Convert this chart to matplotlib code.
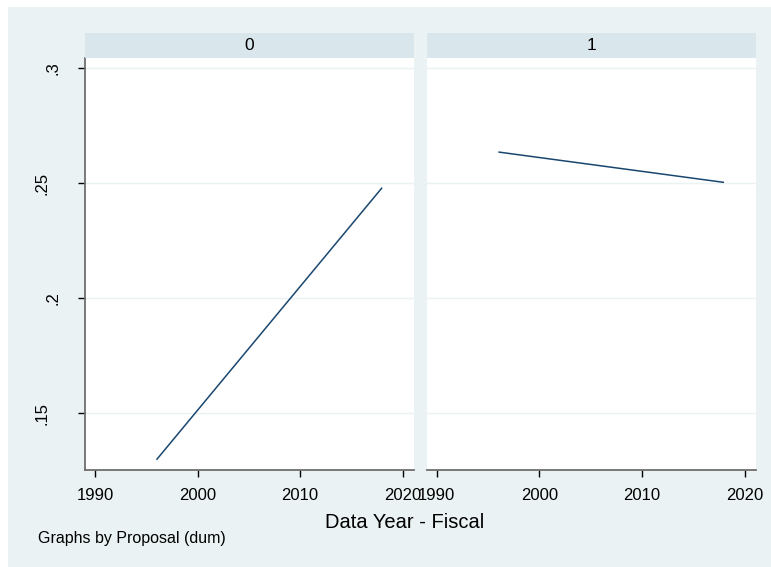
import matplotlib
matplotlib.use("Agg")
import matplotlib.pyplot as plt
from matplotlib.patches import Rectangle
from matplotlib.transforms import ScaledTranslation

plt.rcParams['font.family'] = ['Liberation Sans', 'DejaVu Sans']

# Fitted trend of the share by fiscal year, one panel per Proposal (dum) group
panels = ["0", "1"]
years = [1996, 2018]
values = {
    "0": [0.1298, 0.2481],
    "1": [0.2636, 0.2504],
}
x_ticks = [1990, 2000, 2010, 2020]
y_ticks = [0.15, 0.20, 0.25, 0.30]
y_labels = [".15", ".2", ".25", ".3"]

BG = "#EAF2F3"
STRIP = "#D9E6EB"
LINE = "#1A476F"
AXIS = "#6E6E6E"

W, H = 771, 567
fig = plt.figure(figsize=(W / 100, H / 100), dpi=100, facecolor="white")

# graph region background
fig.patches.append(Rectangle((8 / W, 0), 1 - 8 / W, 1 - 7 / H,
                             transform=fig.transFigure, facecolor=BG,
                             edgecolor="none", zorder=-10))

def fx(px):
    return px / W

def fy(py):
    return 1 - py / H

plot_top, plot_bottom = 58.0, 470.3
strip_top = 33.0
lefts = [84.7, 426.6]
width_px = 329.2

for i, key in enumerate(panels):
    left = lefts[i]
    ax = fig.add_axes([fx(left), fy(plot_bottom), width_px / W,
                       (plot_bottom - plot_top) / H])
    ax.set_facecolor("white")
    ax.plot(years, values[key], color=LINE, lw=1.1, solid_capstyle="butt")
    ax.set_xlim(1989.0, 2021.1)
    ax.set_ylim(0.12522, 0.30448)
    ax.set_yticks(y_ticks)
    for yv in y_ticks:
        ax.axhline(yv, color=BG, lw=1.0, zorder=0)
    ax.set_xticks(x_ticks)
    ax.set_xticklabels([str(t) for t in x_ticks], fontsize=12)
    ax.tick_params(axis="x", direction="out", length=5, width=1,
                   color="black", pad=8)
    for s in ["top", "right"]:
        ax.spines[s].set_visible(False)
    ax.spines["bottom"].set_color(AXIS)
    ax.spines["bottom"].set_linewidth(1.3)
    if i == 0:
        ax.set_yticklabels(y_labels, fontsize=12, rotation=90, va="center")
        ax.tick_params(axis="y", direction="out", length=5, width=1,
                       color="black", pad=20)
        # short labels sit closer to the axis
        for lab in ax.get_yticklabels():
            if len(lab.get_text()) == 2:
                lab.set_transform(lab.get_transform() +
                                  ScaledTranslation(0.11, 0,
                                                    fig.dpi_scale_trans))
        ax.spines["left"].set_color(AXIS)
        ax.spines["left"].set_linewidth(1.3)
    else:
        ax.spines["left"].set_visible(False)
        ax.tick_params(axis="y", left=False, labelleft=False)

    # panel strip
    sax = fig.add_axes([fx(left), fy(plot_top), width_px / W,
                        (plot_top - strip_top) / H])
    sax.set_facecolor(STRIP)
    sax.set_xticks([])
    sax.set_yticks([])
    for s in sax.spines.values():
        s.set_visible(False)
    sax.text(0.5, 0.5, key, ha="center", va="center", fontsize=12.5,
             transform=sax.transAxes)

fig.text(fx(405), fy(522), "Data Year - Fiscal", ha="center", va="center",
         fontsize=14.5)
fig.text(fx(38), fy(539), "Graphs by Proposal (dum)", ha="left", va="center",
         fontsize=11.5)

fig.savefig("out.png", dpi=100, facecolor="white")
